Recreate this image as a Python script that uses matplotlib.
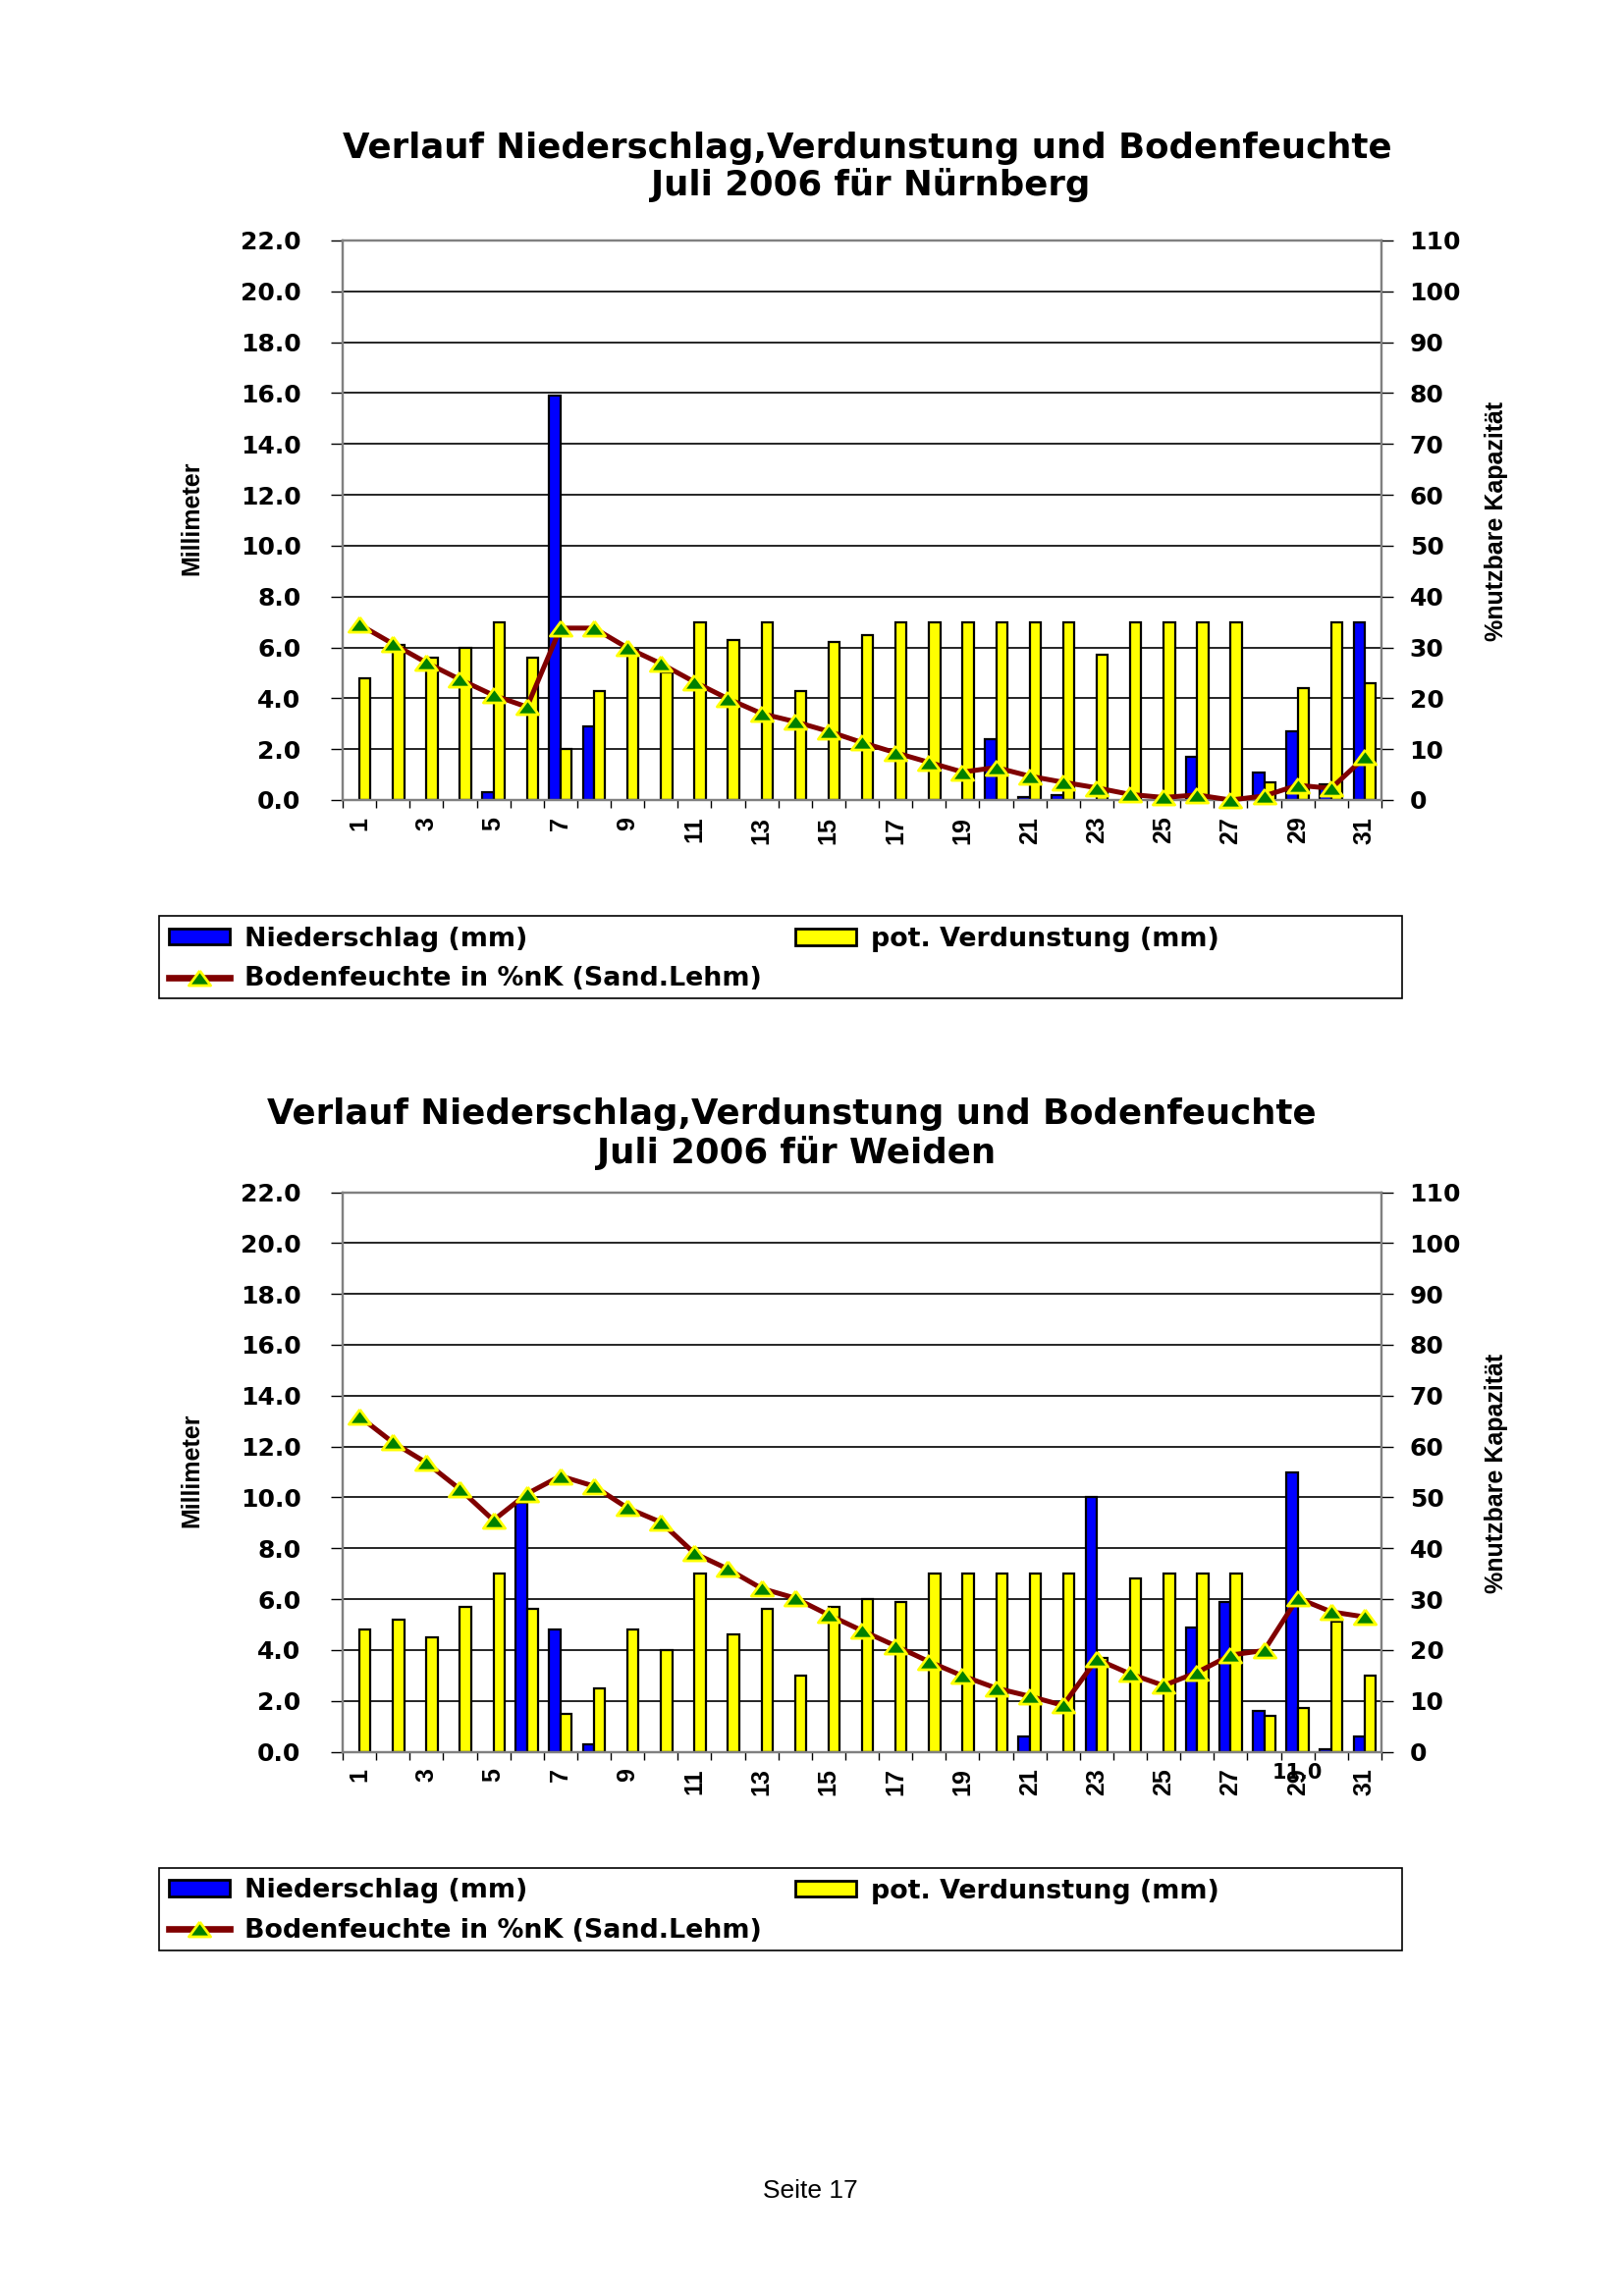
import numpy as np
import matplotlib
matplotlib.use("Agg")
import matplotlib.pyplot as plt
from matplotlib.patches import Rectangle, Patch
from matplotlib.lines import Line2D

# ---------------- data ----------------
days = list(range(1, 32))
xtick_days = list(range(1, 32, 2))

nied_nbg = [0, 0, 0, 0, 0.3, 0, 15.9, 2.9, 0, 0, 0, 0, 0, 0, 0, 0,
            0, 0, 0, 2.4, 0.1, 0.2, 0, 0, 0, 1.7, 0, 1.1, 2.7, 0.6, 7.0]
verd_nbg = [4.8, 6.1, 5.6, 6.0, 7.0, 5.6, 2.0, 4.3, 5.9, 5.0, 7.0, 6.3, 7.0, 4.3, 6.2, 6.5,
            7.0, 7.0, 7.0, 7.0, 7.0, 7.0, 5.7, 7.0, 7.0, 7.0, 7.0, 0.7, 4.4, 7.0, 4.6]
bf_nbg = [34.5, 30.7, 27.0, 23.7, 20.6, 18.3, 33.8, 33.8, 29.9, 26.8, 23.2, 19.9, 17.0, 15.4, 13.5, 11.3,
          9.3, 7.4, 5.5, 6.4, 4.7, 3.5, 2.4, 1.1, 0.5, 1.0, 0.0, 0.8, 2.9, 2.3, 8.4]

nied_wei = [0, 0, 0, 0, 0, 9.8, 4.8, 0.3, 0, 0, 0, 0, 0, 0, 0, 0,
            0, 0, 0, 0, 0.6, 0, 10.0, 0, 0, 4.9, 5.9, 1.6, 11.0, 0.1, 0.6]
verd_wei = [4.8, 5.2, 4.5, 5.7, 7.0, 5.6, 1.5, 2.5, 4.8, 4.0, 7.0, 4.6, 5.6, 3.0, 5.7, 6.0,
            5.9, 7.0, 7.0, 7.0, 7.0, 7.0, 3.7, 6.8, 7.0, 7.0, 7.0, 1.4, 1.7, 5.1, 3.0]
bf_wei = [65.9, 60.8, 56.8, 51.6, 45.5, 50.7, 54.2, 52.2, 47.9, 45.1, 39.0, 35.9, 32.1, 30.2, 26.9, 23.8,
          20.8, 17.7, 14.9, 12.5, 10.9, 9.1, 18.2, 15.3, 13.0, 15.6, 19.0, 19.9, 30.2, 27.5, 26.5]

left_ticks = [0, 2, 4, 6, 8, 10, 12, 14, 16, 18, 20, 22]
right_ticks = [0, 10, 20, 30, 40, 50, 60, 70, 80, 90, 100, 110]

title_line1 = "Verlauf Niederschlag,Verdunstung und Bodenfeuchte"
stations = ["Nürnberg", "Weiden"]
lbl_nied = "Niederschlag (mm)"
lbl_verd = "pot. Verdunstung (mm)"
lbl_bf = "Bodenfeuchte in %nK (Sand.Lehm)"

# ---------------- style ----------------
W, H = 1653, 2339
DPI = 200
fig = plt.figure(figsize=(W / DPI, H / DPI), dpi=DPI)
fig.patch.set_facecolor("white")


def fx(px):
    return px / W


def fy(py):
    return 1 - py / H


BLUE = "#0000FF"
YELLOW = "#FFFF00"
MAROON = "#800000"
GREEN = "#008000"
GRAY = "#808080"
TRI = [(0, 0.68), (-1, -0.68), (1, -0.68), (0, 0.68)]

f_title = dict(family="DejaVu Sans", weight="bold", size=12.8)
f_ytick = dict(family="DejaVu Sans", weight="bold", size=9)
f_xtick = dict(family="Liberation Sans", weight="bold", size=9)
f_axlab = dict(family="Liberation Sans", weight="bold", size=9)
f_leg = dict(family="DejaVu Sans", weight="bold", size=9.7)


def panel(off, nied, verd, bf, station, t1, t2, datalabel=False):
    ax = fig.add_axes([fx(349), fy(815 + off), fx(1407) - fx(349), 570 / H])
    d = np.array(days, dtype=float)
    ax.set_xlim(0.5, 31.5)
    ax.set_ylim(0, 22)
    ax.set_axisbelow(True)
    ax.yaxis.grid(True, color="black", lw=0.6)

    bw = 0.333
    ax.bar(d - bw / 2, nied, width=bw, color=BLUE, edgecolor="black",
           linewidth=[0.8 if v > 0 else 0 for v in nied], zorder=2)
    ax.bar(d + bw / 2, verd, width=bw, color=YELLOW, edgecolor="black",
           linewidth=[0.8 if v > 0 else 0 for v in verd], zorder=2)

    ax.set_yticks(left_ticks)
    ax.set_yticklabels([f"{v:.1f}" for v in left_ticks], fontdict=f_ytick)
    ax.tick_params(axis="y", direction="out", length=4.3, width=0.5, pad=11, colors="black")

    ax.set_xticks(xtick_days)
    ax.set_xticklabels([str(v) for v in xtick_days], rotation=90, fontdict=f_xtick)
    ax.set_xticks(np.arange(0.5, 32, 1.0), minor=True)
    ax.tick_params(axis="x", which="major", length=0, pad=6)
    ax.tick_params(axis="x", which="minor", direction="out", length=3, width=0.5)

    for s in ax.spines.values():
        s.set_color(GRAY)
        s.set_linewidth(0.8)

    ax2 = ax.twinx()
    ax2.set_ylim(0, 110)
    ax2.set_yticks(right_ticks)
    ax2.set_yticklabels([str(v) for v in right_ticks], fontdict=f_ytick)
    ax2.tick_params(axis="y", direction="out", length=4.3, width=0.5, pad=6)
    for s in ax2.spines.values():
        s.set_color(GRAY)
        s.set_linewidth(0.8)
    ax2.plot(d, bf, color=MAROON, lw=1.8, marker=TRI, markersize=8,
             markerfacecolor=GREEN, markeredgecolor=YELLOW, markeredgewidth=1.0,
             clip_on=False, zorder=5)

    if datalabel:
        i = int(np.argmax(nied))
        ax.annotate(f"{nied[i]:.1f}", xy=(days[i], 0), xytext=(0, -7.6),
                    textcoords="offset points", ha="center", va="center",
                    annotation_clip=False, family="DejaVu Sans", weight="bold", size=7.5)

    # titles
    fig.text(fx(t1[0]), fy(t1[1]), title_line1, ha="center", va="center", **f_title)
    fig.text(fx(t2[0]), fy(t2[1]), f"Juli 2006 für {station}", ha="center", va="center", **f_title)

    # axis labels
    fig.text(fx(195), fy(528 + off), "Millimeter", rotation=90, ha="center", va="center", **f_axlab)
    fig.text(fx(1524), fy(531 + off), "%nutzbare Kapazität", rotation=90, ha="center", va="center", **f_axlab)

    # legend
    h_n = Patch(facecolor=BLUE, edgecolor="black", linewidth=1.0)
    h_v = Patch(facecolor=YELLOW, edgecolor="black", linewidth=1.0)
    h_b = Line2D([], [], color=MAROON, lw=2.4, marker=TRI, markersize=8,
                 markerfacecolor=GREEN, markeredgecolor=YELLOW, markeredgewidth=1.0)
    common = dict(frameon=False, borderpad=0, borderaxespad=0, handlelength=2.3,
                  handleheight=0.55, handletextpad=0.55, labelspacing=0.55, prop=f_leg)
    fig.legend([h_n, h_b], [lbl_nied, lbl_bf], loc="center left",
               bbox_to_anchor=(fx(172), fy(977 + off)), **common)
    fig.legend([h_v], [lbl_verd], loc="center left",
               bbox_to_anchor=(fx(810), fy(957 + off)), **common)
    fig.add_artist(Rectangle((fx(162), fy(1017 + off)), fx(1428) - fx(162), (1017 - 933) / H,
                             transform=fig.transFigure, fill=False, edgecolor="black", lw=0.6))
    return ax


panel(0, nied_nbg, verd_nbg, bf_nbg, stations[0], (883, 151), (887, 188))
panel(969.5, nied_wei, verd_wei, bf_wei, stations[1], (806, 1135), (811, 1174), datalabel=True)

fig.text(fx(825), fy(2232), "Seite 17", ha="center", va="center",
         family="Liberation Sans", size=9.5)

fig.savefig("out.png", dpi=DPI, facecolor="white")
